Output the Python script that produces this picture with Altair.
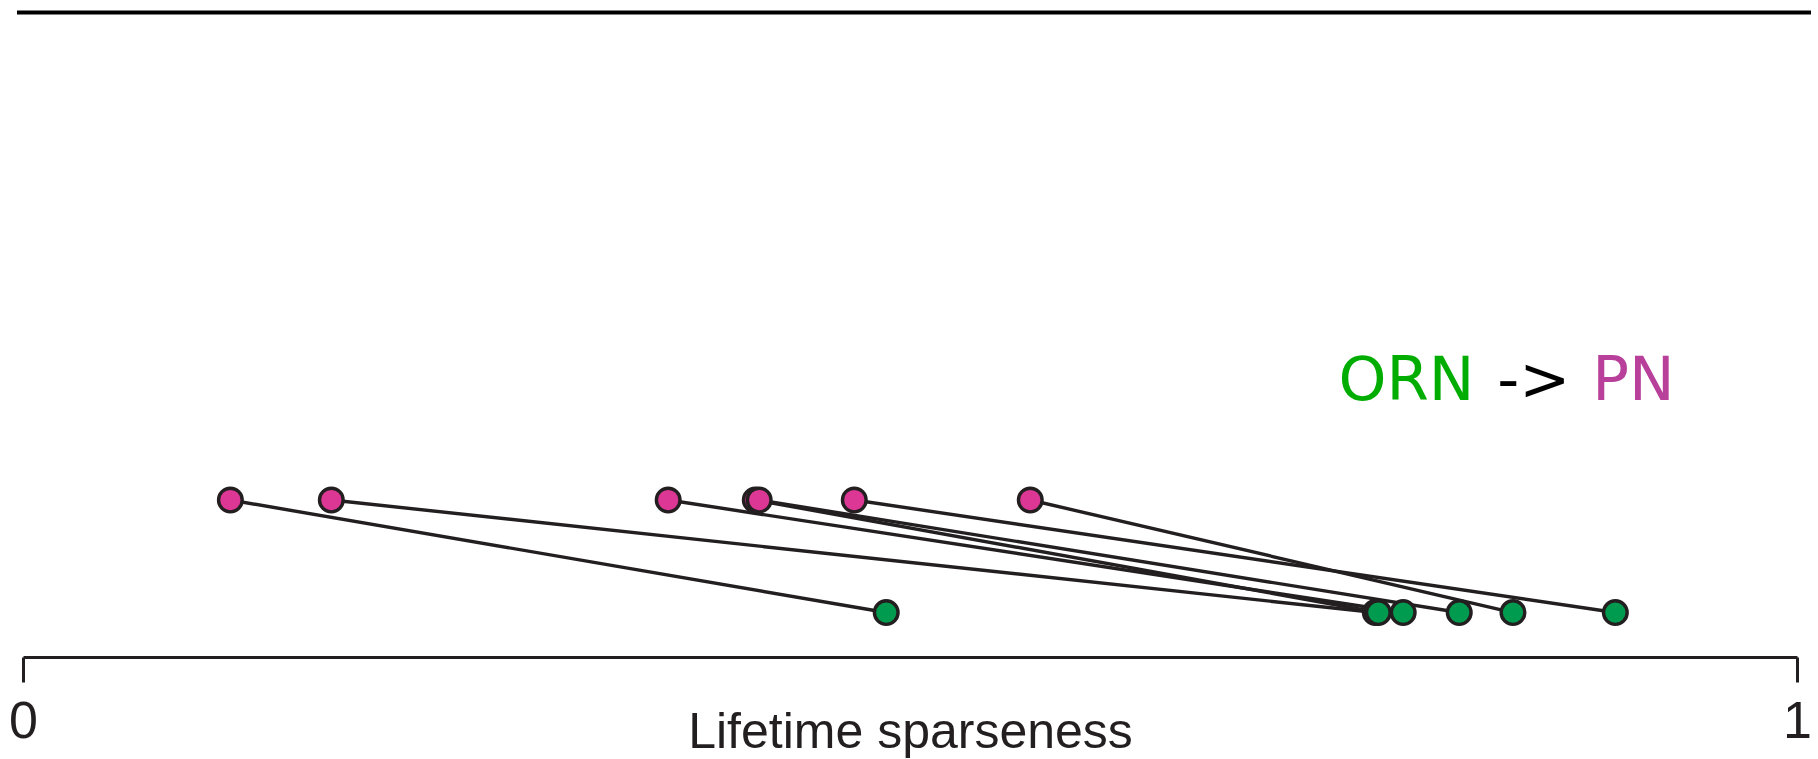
import altair as alt
import pandas as pd

# Lifetime sparseness per neuron type (PN = projection neuron, ORN = receptor neuron)
pn_values = [0.1169, 0.1738, 0.3637, 0.4128, 0.4150, 0.4686, 0.5678]
orn_values = [0.4866, 0.7623, 0.7780, 0.7640, 0.8096, 0.8976, 0.8399]
pair_ids = [1, 2, 3, 4, 5, 6, 7]
stage_levels = {"PN": 1.0, "ORN": 0.0}
tick_values = [0, 1]

pairs = pd.DataFrame({
    "pair": pair_ids,
    "pn": pn_values,
    "orn": orn_values,
    "pn_level": [stage_levels["PN"]] * len(pair_ids),
    "orn_level": [stage_levels["ORN"]] * len(pair_ids),
})

points = pd.concat([
    pd.DataFrame({"pair": pair_ids, "x": pn_values, "level": stage_levels["PN"], "stage": "PN"}),
    pd.DataFrame({"pair": pair_ids, "x": orn_values, "level": stage_levels["ORN"], "stage": "ORN"}),
], ignore_index=True)

legend_text = pd.DataFrame({
    "label": ["ORN", "->", "PN"],
    "x": [0.7415, 0.8310, 0.8846],
    "level": [1.889, 1.889, 1.889],
    "color": ["#00ad00", "#000000", "#b8409a"],
})

xscale = alt.Scale(domain=[0, 1], nice=False, zero=False)
yscale = alt.Scale(domain=[-0.395, 5.443], nice=False, zero=False)

INK = "#231f20"
SANS = "Liberation Sans, Arial, Helvetica, sans-serif"

x_axis = alt.Axis(
    values=tick_values,
    format="d",
    grid=False,
    domainColor=INK,
    domainWidth=3,
    tickColor=INK,
    tickWidth=3,
    tickSize=25,
    labelFont=SANS,
    labelFontSize=52,
    labelColor=INK,
    labelPadding=14,
    labelFlush=False,
    title="Lifetime sparseness",
    titleFont=SANS,
    titleFontSize=50,
    titleFontWeight="normal",
    titleColor=INK,
    titleX=887,
    titleY=90,
    titleAlign="center",
    titleBaseline="alphabetic",
)

lines = alt.Chart(pairs).mark_rule(color=INK, strokeWidth=3.4).encode(
    x=alt.X("pn:Q", scale=xscale, axis=x_axis),
    x2="orn:Q",
    y=alt.Y("pn_level:Q", scale=yscale, axis=None),
    y2="orn_level:Q",
)

dots = alt.Chart(points).mark_point(
    shape="circle", filled=True, size=560, stroke=INK, strokeWidth=3.4, opacity=1
).encode(
    x=alt.X("x:Q", scale=xscale, axis=x_axis),
    y=alt.Y("level:Q", scale=yscale, axis=None),
    fill=alt.Fill("stage:N", scale=alt.Scale(domain=["PN", "ORN"], range=["#dc3795", "#009b4e"]), legend=None),
)

labels = alt.Chart(legend_text).mark_text(
    font="DejaVu Sans", fontSize=61, align="left", baseline="alphabetic"
).encode(
    x=alt.X("x:Q", scale=xscale, axis=x_axis),
    y=alt.Y("level:Q", scale=yscale, axis=None),
    text="label:N",
    color=alt.Color("color:N", scale=None),
)

top_rule = alt.Chart(pd.DataFrame({"k": [0]})).mark_rule(color="#000000", strokeWidth=4).encode(
    x=alt.value(-6),
    x2=alt.value(1788),
    y=alt.value(12.5),
)

chart = alt.layer(top_rule, lines, dots, labels).properties(
    width=1774,
    height=657,
    background="white",
    autosize=alt.AutoSizeParams(type="none"),
    padding={"left": 23, "top": 0, "right": 21, "bottom": 102},
).configure_view(stroke=None).configure_axis(grid=False)

chart.save("out.html", embed_options={"renderer": "svg", "actions": False})
